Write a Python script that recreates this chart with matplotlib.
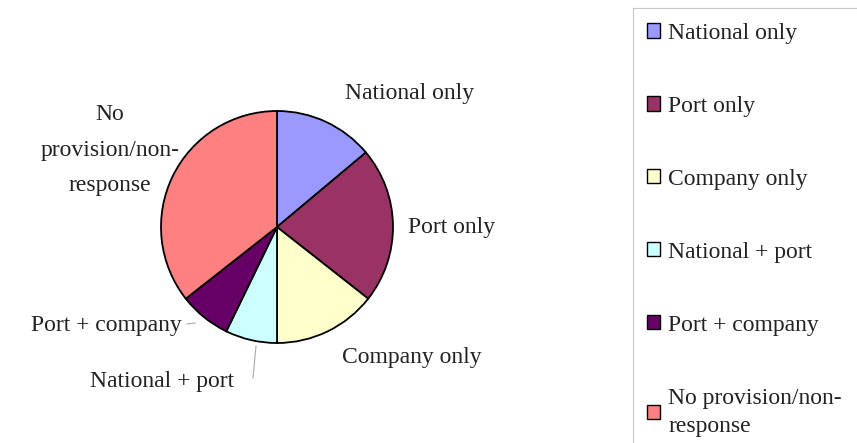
import numpy as np
import matplotlib.pyplot as plt
from matplotlib.patches import Rectangle

# shares (degrees of the circle -> percent)
categories = ['National only', 'Port only', 'Company only',
              'National + port', 'Port + company', 'No provision/non-\nresponse']
shares = [13.9, 21.7, 14.4, 7.2, 7.2, 35.6]
colors = ['#9999FF', '#993366', '#FFFFCC', '#CCFFFF', '#660066', '#FF8080']

W, H = 857, 443
fig = plt.figure(figsize=(W / 100, H / 100), dpi=100)
ax = fig.add_axes([0, 0, 1, 1])

plt.rcParams['font.family'] = ['Liberation Serif', 'DejaVu Serif']
fs = 17

# y positions given from the top of the picture, flipped here
def fy(y):
    return H - y

wedges, _ = ax.pie(shares, colors=colors, startangle=90, counterclock=False,
                   center=(277, fy(227)), radius=116, frame=True,
                   wedgeprops=dict(edgecolor='black', linewidth=1.3))
ax.set_xlim(0, W)
ax.set_ylim(0, H)
ax.set_aspect('equal')
ax.axis('off')

# slice labels
lab_pos = [(410, 93), (452, 227), (412, 357), (162, 381), (106, 326), (110, 150)]
lab_txt = ['National only', 'Port only', 'Company only', 'National + port',
           'Port + company', 'No\nprovision/non-\nresponse']
for (x, y), t in zip(lab_pos, lab_txt):
    ax.text(x, fy(y), t, ha='center', va='center', fontsize=fs, color='#222222',
            linespacing=1.9)

# leader lines
ax.plot([187, 195], [fy(324), fy(323)], color='#aaaaaa', lw=0.8)
ax.plot([256, 253], [fy(346), fy(378)], color='#aaaaaa', lw=0.8)

# legend box runs past the right and bottom edges
fig.patches.append(Rectangle((633 / W, -0.05), 0.5, 1 - 8 / H + 0.05,
                             transform=fig.transFigure, facecolor='none',
                             edgecolor='#c8c8c8', linewidth=0.8))
leg = fig.legend(wedges, categories, loc='upper left',
                 bbox_to_anchor=(635 / W, 1 - 11 / H), fontsize=fs,
                 frameon=False,
                 handlelength=0.55, handleheight=0.55, handletextpad=0.35,
                 labelspacing=2.2, borderpad=0.5, borderaxespad=0)
for t in leg.get_texts():
    t.set_color('#222222')
    t.set_linespacing(1.45)
for h in leg.legend_handles:
    h.set_linewidth(1.0)

fig.savefig('out.png', dpi=100)
